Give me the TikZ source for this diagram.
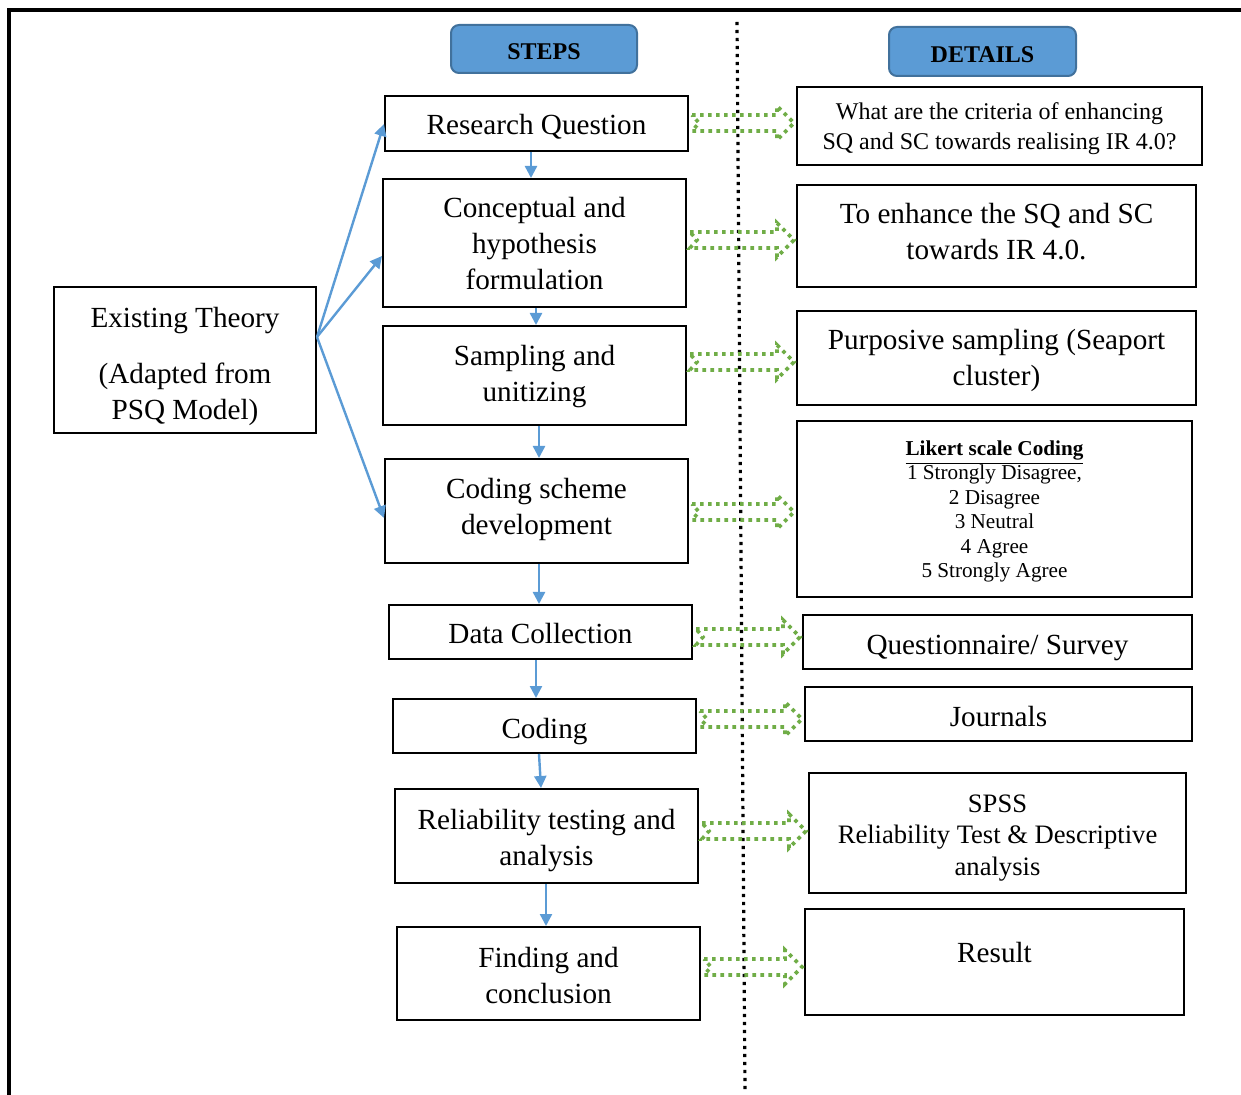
\documentclass[tikz,border=0pt]{standalone}
\usepackage{fontspec}
\setmainfont{Liberation Serif}
\usetikzlibrary{arrows.meta,calc}
\definecolor{hblue}{HTML}{5B9BD5}
\definecolor{hborder}{HTML}{41719C}
\definecolor{agreen}{HTML}{70AD47}
\newcommand\mainsz{\fontsize{14.6}{18}\selectfont}
\newcommand\detsz{\fontsize{12}{15}\selectfont}
\newcommand\likertsz{\fontsize{10.6}{12.25}\selectfont}
\newcommand\spsssz{\fontsize{13.3}{15.75}\selectfont}
% green dotted block arrow from node #1 to node #2 at picture row #3
\newcommand\grar[3]{%
  \draw[garrow] let \p1=(#1.east), \p2=(#2.west), \p3=(0,#3) in
  (\x1+1.5pt,\y3+4pt) -- (\x2-9.5pt,\y3+4pt) -- (\x2-9.5pt,\y3+8.5pt) -- (\x2-1pt,\y3)
  -- (\x2-9.5pt,\y3-8.5pt) -- (\x2-9.5pt,\y3-4pt) -- (\x1+1.5pt,\y3-4pt)
  -- (\x1+5pt,\y3) -- cycle;}
\tikzset{
  box/.style={draw, line width=1pt, align=center, inner sep=2pt, font=\mainsz},
  wh/.style 2 args={minimum width=#1*0.5pt, minimum height=#2*0.5pt},
  up/.style={text height=0pt, text depth=#1},
  dn/.style={text height=#1, text depth=0pt},
  header/.style={draw=hborder, fill=hblue, line width=1pt, rounded corners=4pt,
    font=\fontsize{12}{14}\selectfont\bfseries},
  barrow/.style={draw=hblue, line width=1.2pt, -{Triangle[length=6pt,width=6pt]}},
  garrow/.style={draw=agreen, line width=1.8pt, dash pattern=on 1.8pt off 2.2pt},
  vdot/.style={draw=black, line width=1.6pt, dash pattern=on 1.6pt off 2.4pt},
}
\begin{document}
\begin{tikzpicture}[x=0.5pt, y=-0.5pt]
\useasboundingbox (0,0) rectangle (1241,1095);
% frame
\draw[line width=2pt] (1241,10) -- (9,10) -- (9,1095);
% divider
\draw[vdot] (737,22) -- (745,1090);
% headers
\node[header, wh={186}{48}, dn=11pt] (steps) at (544,49) {STEPS};
\node[header, wh={187}{49}, dn=11.5pt] (details) at (982.5,51.5) {DETAILS};
% steps
\node[box, wh={303}{55}, dn=11.5pt]  (rq) at (536.5,123.5) {Research Question};
\node[box, wh={303}{128}, dn=47pt] (cp) at (534.5,243) {Conceptual and\\hypothesis\\formulation};
\node[box, wh={303}{99}, dn=26.5pt]  (su) at (534.5,375.5) {Sampling and\\unitizing};
\node[box, wh={303}{104}, dn=24pt] (cs) at (536.5,511) {Coding scheme\\development};
\node[box, wh={303}{54}, dn=12pt]  (dc) at (540.5,632) {Data Collection};
\node[box, wh={303}{54}, dn=12pt]  (co) at (544.5,726) {Coding};
\node[box, wh={303}{94}, dn=29pt]  (rt) at (546.5,836) {Reliability testing and\\analysis};
\node[box, wh={303}{93}, dn=29.5pt]  (fc) at (548.5,973.5) {Finding and\\conclusion};
% theory
\node[box, wh={262}{146}, dn=60pt] (th) at (185,360) {Existing Theory\\[10pt](Adapted from\\PSQ Model)};
% details
\node[box, wh={405}{78}, font=\detsz, dn=24pt] (d1) at (999.5,126) {What are the criteria of enhancing\\SQ and SC towards realising IR 4.0?};
\node[box, wh={399}{102}, dn=24pt] (d2) at (996.5,236) {To enhance the SQ and SC\\towards IR 4.0.};
\node[box, wh={399}{94}, dn=28pt] (d3) at (996.5,358) {Purposive sampling (Seaport\\cluster)};
\node[box, wh={395}{176}, font=\likertsz, dn=69pt] (d4) at (994.5,509) {\underline{\textbf{Likert scale Coding}}\\1 Strongly Disagree,\\2 Disagree\\3 Neutral\\4 Agree\\5 Strongly Agree};
\node[box, wh={389}{54}, dn=12pt] (d5) at (997.5,642) {Questionnaire/ Survey};
\node[box, wh={387}{54}, dn=12pt] (d6) at (998.5,714) {Journals};
\node[box, wh={377}{120}, font=\spsssz, dn=42pt] (d7) at (997.5,833) {SPSS\\Reliability Test \& Descriptive\\analysis};
\node[box, wh={379}{106}, up=0pt] (d8) at (994.5,962) {Result};
% step arrows
\draw[barrow] (531,0 |- rq.south) -- (531,0 |- cp.north);
\draw[barrow] (536,0 |- cp.south) -- (536,0 |- su.north);
\draw[barrow] (539,0 |- su.south) -- (539,0 |- cs.north);
\draw[barrow] (539,0 |- cs.south) -- (539,0 |- dc.north);
\draw[barrow] (536,0 |- dc.south) -- (536,0 |- co.north);
\draw[barrow] (539,0 |- co.south) -- (541,0 |- rt.north);
\draw[barrow] (546,0 |- rt.south) -- (546,0 |- fc.north);
% theory arrows
\coordinate (ts) at (th.east |- 0,337);
\draw[barrow] (ts) -- (rq.west |- 0,124);
\draw[barrow] (ts) -- (cp.west |- 0,256);
\draw[barrow] (ts) -- (cs.west |- 0,518);
% green arrows
\grar{rq}{d1}{123}
\grar{cp}{d2}{240}
\grar{su}{d3}{362}
\grar{cs}{d4}{512}
\grar{dc}{d5}{637}
\grar{co}{d6}{719}
\grar{rt}{d7}{831}
\grar{fc}{d8}{967}
\end{tikzpicture}
\end{document}
